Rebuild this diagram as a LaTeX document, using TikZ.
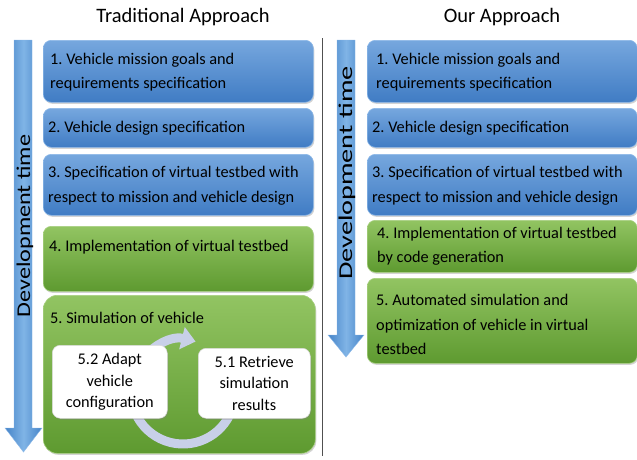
\documentclass[tikz,border=0pt]{standalone}
\usepackage{fontspec}
\setmainfont{Carlito}
\frenchspacing
\usetikzlibrary{shadows,arrows.meta,calc}
\definecolor{bluetop}{RGB}{118,167,222}
\definecolor{bluebot}{RGB}{64,124,196}
\definecolor{blueedge}{RGB}{140,184,232}
\definecolor{greentop}{RGB}{146,196,98}
\definecolor{greenbot}{RGB}{94,154,48}
\definecolor{greenedge}{RGB}{168,208,130}
\definecolor{arrowmid}{RGB}{128,180,230}
\definecolor{arrowside}{RGB}{70,132,200}
\definecolor{ringcol}{RGB}{200,208,232}
\definecolor{sepcol}{RGB}{80,80,80}
\begin{document}
\begin{tikzpicture}[x=1pt,y=-1pt,
  boxbase/.style={rounded corners=8pt, line width=0.6pt, anchor=north west, inner sep=0pt,
    drop shadow={opacity=0.35, shadow xshift=1pt, shadow yshift=-1.5pt}},
  bluebox/.style={boxbase, top color=bluetop, bottom color=bluebot, draw=blueedge},
  greenbox/.style={boxbase, top color=greentop, bottom color=greenbot, draw=greenedge},
  whitebox/.style={rounded corners=8pt, fill=white, draw=black!15, line width=0.5pt,
    anchor=north west, align=center, inner sep=0pt,
    font=\fontsize{16.3}{21.5}\selectfont,
    drop shadow={opacity=0.3, shadow xshift=1pt, shadow yshift=-1.5pt}},
  timearrow/.style={left color=arrowside, right color=arrowside, middle color=arrowmid,
    draw=blueedge, line width=0.4pt},
  titletext/.style={font=\fontsize{20.5}{24}\selectfont},
  timetext/.style={font=\fontsize{19.5}{22}\selectfont, rotate=90, inner sep=0pt},
  ring/.style={draw=ringcol, line width=9pt, -{Triangle[width=22pt,length=14pt]}},
  plaintext/.style={anchor=west, inner sep=0pt, align=left, font=\fontsize{16.3}{24.5}\selectfont}
]
\useasboundingbox (0,0) rectangle (637,459);

% titles
\node[titletext] (tL) at (183,17) {Traditional Approach};
\node[titletext] (tR) at (502,17) {Our Approach};

% separator
\coordinate (s1) at (322,38);
\coordinate (s2) at (322,456);
\draw[sepcol, line width=0.8pt] (s1) -- (s2);

% time arrows
\path[timearrow] (14,40) -- (32,40) -- (32,428) -- (42,428) -- (23.5,452) -- (5,428) -- (14,428) -- cycle;
\node[timetext] (dL) at (25,226) {\scalebox{1.24}[1]{Development time}};
\path[timearrow] (337,40) -- (355,40) -- (355,335) -- (364,335) -- (346,357) -- (328,335) -- (337,335) -- cycle;
\node[timetext] (dR) at (347,173) {\scalebox{1.45}[1]{Development time}};

% left column
\node[bluebox, minimum width=270pt, minimum height=62pt] (L1) at (43,40) {};
\node[plaintext] (L1t) at ($(L1.west)+(7,1)$) {1. Vehicle mission goals and\\requirements specification};
\node[bluebox, minimum width=270pt, minimum height=39pt] (L2) at (43,108) {};
\node[plaintext] (L2t) at ($(L2.west)+(5,0)$) {2. Vehicle design specification};
\node[bluebox, minimum width=270pt, minimum height=61pt] (L3) at (43,154) {};
\node[plaintext] (L3t) at ($(L3.west)+(5,1)$) {3. Specification of virtual testbed with\\respect to mission and vehicle design};
\node[greenbox, minimum width=270pt, minimum height=65pt] (L4) at (43,226) {};
\node[plaintext] (L4t) at (49,247) {4. Implementation of virtual testbed};
\node[greenbox, rounded corners=14pt, minimum width=272pt, minimum height=158pt] (L5) at (43,295) {};
\node[plaintext] (L5t) at (50,318) {5. Simulation of vehicle};

% circular arrow
\coordinate (cc) at (183,392);
\draw[ring] ([shift={(-20:52pt)}]cc) arc[start angle=-20, end angle=-284, radius=52pt];

\node[whitebox, minimum width=115pt, minimum height=73pt] (W2) at (52,345)
  {5.2 Adapt\\vehicle\\configuration};
\node[whitebox, minimum width=112pt, minimum height=70pt] (W1) at (198,348)
  {5.1 Retrieve\\simulation\\results};

% right column
\node[bluebox, minimum width=270pt, minimum height=62pt] (R1) at (367,40) {};
\node[plaintext] (R1t) at ($(R1.west)+(9,1)$) {1. Vehicle mission goals and\\requirements specification};
\node[bluebox, minimum width=270pt, minimum height=39pt] (R2) at (367,108) {};
\node[plaintext] (R2t) at ($(R2.west)+(5,0)$) {2. Vehicle design specification};
\node[bluebox, minimum width=270pt, minimum height=61pt] (R3) at (367,154) {};
\node[plaintext] (R3t) at ($(R3.west)+(5,1)$) {3. Specification of virtual testbed with\\respect to mission and vehicle design};
\node[greenbox, minimum width=270pt, minimum height=52pt] (R4) at (367,220) {};
\node[plaintext] (R4t) at ($(R4.west)+(10,0)$) {4. Implementation of virtual testbed\\by code generation};
\node[greenbox, minimum width=270pt, minimum height=85pt] (R5) at (367,278) {};
\node[plaintext] (R5t) at ($(R5.west)+(9,4)$) {5. Automated simulation and\\optimization of vehicle in virtual\\testbed};
\end{tikzpicture}
\end{document}
